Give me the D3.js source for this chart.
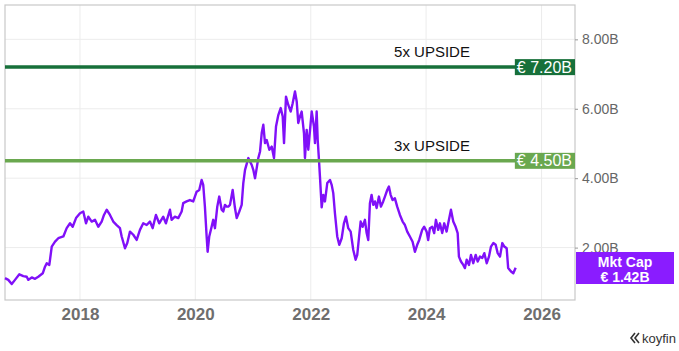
<!DOCTYPE html>
<html>
<head>
<meta charset="utf-8">
<script src="https://cdn.jsdelivr.net/npm/d3@7"></script>
<style>
  html, body { margin: 0; padding: 0; background: #fff; }
  svg { display: block; font-family: "Liberation Sans", Arial, Helvetica, sans-serif; }
</style>
</head>
<body>
<svg id="chart" width="679" height="351"></svg>
<script>
// ---- data (decimal years, market cap in € billions) ----
const years = [
  2016.700, 2016.757, 2016.816, 2016.873, 2016.948, 2017.017, 2017.076, 2017.104, 2017.163, 2017.220,
  2017.277, 2017.354, 2017.393, 2017.423, 2017.468, 2017.510, 2017.567, 2017.624, 2017.711, 2017.769,
  2017.827, 2017.873, 2017.931, 2018.000, 2018.057, 2018.104, 2018.144, 2018.203, 2018.260, 2018.317,
  2018.376, 2018.416, 2018.463, 2018.520, 2018.577, 2018.636, 2018.693, 2018.723, 2018.780, 2018.820,
  2018.867, 2018.924, 2018.983, 2019.040, 2019.097, 2019.156, 2019.213, 2019.260, 2019.317, 2019.374,
  2019.444, 2019.490, 2019.560, 2019.589, 2019.646, 2019.704, 2019.763, 2019.790, 2019.849, 2019.906,
  2019.964, 2020.023, 2020.068, 2020.109, 2020.137, 2020.166, 2020.196, 2020.213, 2020.241, 2020.282,
  2020.310, 2020.340, 2020.380, 2020.414, 2020.456, 2020.484, 2020.513, 2020.542, 2020.570, 2020.600,
  2020.646, 2020.686, 2020.716, 2020.761, 2020.802, 2020.830, 2020.860, 2020.917, 2020.976, 2021.003,
  2021.033, 2021.062, 2021.090, 2021.120, 2021.149, 2021.177, 2021.206, 2021.236, 2021.281, 2021.322,
  2021.362, 2021.397, 2021.437, 2021.478, 2021.513, 2021.536, 2021.570, 2021.610, 2021.652, 2021.686,
  2021.726, 2021.756, 2021.783, 2021.813, 2021.842, 2021.882, 2021.899, 2021.929, 2021.957, 2021.998,
  2022.016, 2022.055, 2022.073, 2022.102, 2022.120, 2022.142, 2022.159, 2022.189, 2022.217, 2022.246,
  2022.286, 2022.333, 2022.362, 2022.390, 2022.419, 2022.459, 2022.494, 2022.536, 2022.575, 2022.610,
  2022.650, 2022.692, 2022.737, 2022.778, 2022.806, 2022.841, 2022.865, 2022.899, 2022.939, 2022.969,
  2022.997, 2023.026, 2023.055, 2023.083, 2023.113, 2023.142, 2023.182, 2023.217, 2023.256, 2023.286,
  2023.326, 2023.355, 2023.385, 2023.419, 2023.459, 2023.499, 2023.546, 2023.593, 2023.633, 2023.673,
  2023.719, 2023.766, 2023.806, 2023.846, 2023.881, 2023.932, 2023.967, 2024.009, 2024.036, 2024.066,
  2024.106, 2024.140, 2024.170, 2024.210, 2024.239, 2024.279, 2024.314, 2024.355, 2024.383, 2024.430,
  2024.470, 2024.511, 2024.546, 2024.568, 2024.603, 2024.643, 2024.672, 2024.702, 2024.742, 2024.776,
  2024.816, 2024.858, 2024.892, 2024.932, 2024.972, 2025.007, 2025.049, 2025.088, 2025.123, 2025.163,
  2025.204, 2025.239, 2025.279, 2025.319, 2025.354, 2025.395, 2025.421, 2025.470, 2025.510, 2025.551
];
const mktCap = [
  1.12, 1.07, 0.95, 1.07, 1.23, 1.18, 1.16, 1.07, 1.14, 1.10,
  1.16, 1.26, 1.45, 1.55, 1.50, 2.03, 2.17, 2.27, 2.32, 2.56,
  2.70, 2.60, 2.85, 2.99, 3.04, 2.70, 2.89, 2.75, 2.80, 2.60,
  2.75, 2.94, 3.09, 2.94, 2.75, 2.65, 2.56, 2.32, 1.98, 2.13,
  2.46, 2.37, 2.22, 2.51, 2.70, 2.65, 2.75, 2.56, 2.94, 2.70,
  2.89, 2.70, 3.09, 2.80, 2.89, 2.85, 3.04, 3.28, 3.33, 3.37,
  3.33, 3.61, 3.66, 3.95, 3.81, 3.18, 2.32, 1.88, 2.32, 2.60,
  2.80, 2.56, 3.18, 3.47, 3.09, 3.04, 3.23, 3.18, 3.18, 3.23,
  3.66, 3.14, 2.85, 3.04, 3.23, 3.86, 4.24, 4.58, 4.38, 4.24,
  4.00, 4.29, 4.58, 4.77, 5.30, 5.54, 5.01, 5.10, 4.82, 4.91,
  4.58, 5.49, 5.82, 6.02, 5.78, 5.01, 6.35, 6.11, 5.92, 6.16,
  6.50, 6.21, 5.59, 5.78, 5.92, 5.30, 4.58, 5.39, 4.82, 5.59,
  5.92, 5.49, 5.01, 5.92, 5.10, 4.53, 4.05, 3.16, 3.52, 3.33,
  3.86, 3.95, 3.81, 3.57, 2.99, 2.32, 2.08, 2.27, 2.70, 2.89,
  2.56, 2.46, 1.93, 1.65, 1.79, 2.37, 2.75, 2.60, 2.80, 2.42,
  2.22, 3.28, 3.52, 3.23, 3.33, 3.14, 3.47, 3.18, 3.33, 3.47,
  3.66, 3.76, 3.52, 3.37, 3.42, 3.18, 2.94, 2.75, 2.65, 2.46,
  2.32, 2.17, 1.88, 2.08, 2.22, 2.51, 2.60, 2.46, 2.22, 2.56,
  2.60, 2.42, 2.80, 2.51, 2.70, 2.42, 2.70, 2.46, 2.70, 3.09,
  2.75, 2.60, 2.42, 1.74, 1.60, 1.50, 1.41, 1.65, 1.50, 1.79,
  1.55, 1.79, 1.60, 1.74, 1.70, 1.84, 1.55, 1.74, 2.03, 2.13,
  2.08, 1.84, 1.74, 2.13, 2.03, 1.98, 1.41, 1.31, 1.26, 1.42
];
const xTickYears = [2018, 2020, 2022, 2024, 2026];
const xTickLabels = ["2018", "2020", "2022", "2024", "2026"];
const yTickValues = [2, 4, 6, 8];
const yTickLabels = ["2.00B", "4.00B", "6.00B", "8.00B"];
const targetValues = [7.2, 4.5];
const targetNames = ["5x UPSIDE", "3x UPSIDE"];
const targetLabels = ["€ 7.20B", "€ 4.50B"];
const targetColors = ["#17703a", "#6aa84f"];
const lastLabel = ["Mkt Cap", "€ 1.42B"];
const xDomainYears = [2016.70, 2026.58];
const yDomain = [0.49, 8.99];

// ---- helpers ----
function decToDate(y) {
  const yr = Math.floor(y);
  const s = Date.UTC(yr, 0, 1), e = Date.UTC(yr + 1, 0, 1);
  return new Date(s + (y - yr) * (e - s));
}

const svg = d3.select("#chart");
const plot = { left: 5, right: 575, top: 5, bottom: 300 };

const x = d3.scaleUtc()
  .domain(xDomainYears.map(decToDate))
  .range([plot.left, plot.right]);
const y = d3.scaleLinear()
  .domain(yDomain)
  .range([plot.bottom, plot.top]);

const data = years.map((yr, i) => ({ date: decToDate(yr), v: mktCap[i] }));

// gridlines
const g = svg.append("g");
g.selectAll("line.hgrid").data(yTickValues).join("line")
  .attr("x1", plot.left).attr("x2", plot.right)
  .attr("y1", d => y(d)).attr("y2", d => y(d))
  .attr("stroke", "#ececec").attr("stroke-width", 1);
g.selectAll("line.vgrid").data(xTickYears).join("line")
  .attr("x1", d => x(decToDate(d))).attr("x2", d => x(decToDate(d)))
  .attr("y1", plot.top).attr("y2", plot.bottom)
  .attr("stroke", "#ececec").attr("stroke-width", 1);

// frame
svg.append("rect")
  .attr("x", plot.left).attr("y", plot.top)
  .attr("width", plot.right - plot.left).attr("height", plot.bottom - plot.top)
  .attr("fill", "none").attr("stroke", "#c8c8c8").attr("stroke-width", 1.2);

// right axis
const yAxis = d3.axisRight(y)
  .tickValues(yTickValues)
  .tickSize(3)
  .tickPadding(4)
  .tickFormat((d, i) => yTickLabels[i]);
const ya = svg.append("g").attr("transform", `translate(${plot.right},0)`).call(yAxis);
ya.select(".domain").remove();
ya.selectAll(".tick line").attr("stroke", "#999");
ya.selectAll(".tick text")
  .attr("fill", "#666").attr("font-size", 14)
  .attr("font-family", "Liberation Sans, Arial, sans-serif");

// bottom axis
const xAxis = d3.axisBottom(x)
  .tickValues(xTickYears.map(decToDate))
  .tickSize(0)
  .tickPadding(8)
  .tickFormat((d, i) => xTickLabels[i]);
const xa = svg.append("g").attr("transform", `translate(0,${plot.bottom})`).call(xAxis);
xa.select(".domain").remove();
xa.selectAll(".tick text")
  .attr("fill", "#6e6e6e").attr("font-size", 17).attr("font-weight", "bold")
  .attr("font-family", "Liberation Sans, Arial, sans-serif");

// price line
const line = d3.line().x(d => x(d.date)).y(d => y(d.v));
svg.append("path").datum(data)
  .attr("d", line)
  .attr("fill", "none")
  .attr("stroke", "#8010f8")
  .attr("stroke-width", 2.4)
  .attr("stroke-linejoin", "round");

// target lines
targetValues.forEach((tv, i) => {
  const ty = y(tv);
  svg.append("line")
    .attr("x1", plot.left).attr("x2", plot.right)
    .attr("y1", ty).attr("y2", ty)
    .attr("stroke", targetColors[i]).attr("stroke-width", 3.5);
  svg.append("text")
    .attr("x", 432).attr("y", ty - 10)
    .attr("text-anchor", "middle")
    .attr("font-size", 15).attr("fill", "#111")
    .text(targetNames[i]);
  const lab = svg.append("text")
    .attr("x", plot.right - 3).attr("y", ty + 5.5)
    .attr("text-anchor", "end")
    .attr("font-size", 16).attr("fill", "#fff")
    .text(targetLabels[i]);
  const bb = lab.node().getBBox();
  svg.insert("rect", () => lab.node())
    .attr("x", bb.x - 2).attr("y", ty - 8)
    .attr("width", plot.right - bb.x + 2).attr("height", 16)
    .attr("fill", targetColors[i]);
});

// last value badge
svg.append("rect")
  .attr("x", plot.right + 1).attr("y", 252)
  .attr("width", 98).attr("height", 32)
  .attr("fill", "#8a1cff");
svg.append("text")
  .attr("x", plot.right + 50).attr("y", 266.5)
  .attr("text-anchor", "middle").attr("font-size", 14).attr("font-weight", "bold")
  .attr("fill", "#fff").text(lastLabel[0]);
svg.append("text")
  .attr("x", plot.right + 50).attr("y", 281.5)
  .attr("text-anchor", "middle").attr("font-size", 14).attr("font-weight", "bold")
  .attr("fill", "#fff").text(lastLabel[1]);

// koyfin brand
const brand = svg.append("g").attr("transform", "translate(630,338)");
brand.append("path")
  .attr("d", "M5,-5 L1,0 L5,5 M9,-5 L5,0 L9,5")
  .attr("fill", "none").attr("stroke", "#333").attr("stroke-width", 1.6);
brand.append("text")
  .attr("x", 46).attr("y", 4.5)
  .attr("text-anchor", "end")
  .attr("font-size", 13).attr("fill", "#333")
  .text("koyfin");
</script>
</body>
</html>
